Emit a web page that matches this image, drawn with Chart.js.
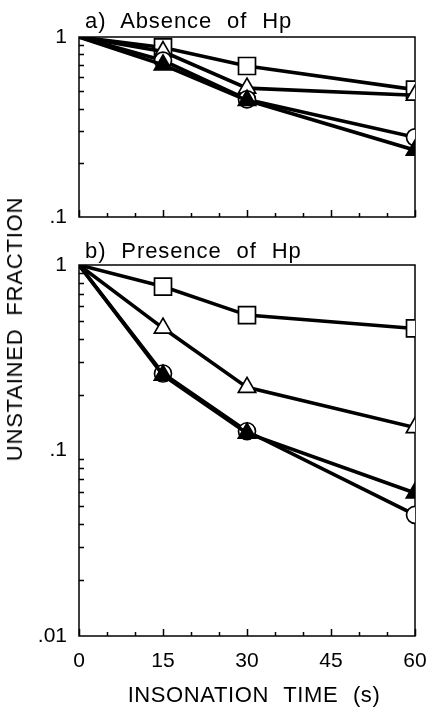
<!DOCTYPE html>
<html>
<head>
<meta charset="utf-8">
<script src="https://cdn.jsdelivr.net/npm/chart.js@4"></script>
<style>
  html, body { margin: 0; padding: 0; background: #fff; }
  #wrap { position: relative; width: 428px; height: 711px; overflow: hidden; font-family: "Liberation Sans", Arial, sans-serif; color: #000; }
  canvas { position: absolute; left: 0; }
  .lbl { position: absolute; white-space: pre; font-size: 22px; line-height: 22px; }
  .panel { letter-spacing: 0.9px; word-spacing: 8px; }
  #ytitle { left: 15px; top: 329px; transform: translate(-50%, -50%) rotate(-90deg); letter-spacing: 0.8px; word-spacing: 6px; }
  #xtitle { left: 254px; top: 695px; transform: translate(-50%, -50%); letter-spacing: 0.6px; word-spacing: 8px; }
</style>
</head>
<body>
<div id="wrap">
  <canvas id="chartA" width="428" height="250" style="top:0"></canvas>
  <canvas id="chartB" width="428" height="486" style="top:225px"></canvas>
  <div class="lbl panel" style="left:85px; top:10px">a) Absence of Hp</div>
  <div class="lbl panel" style="left:85px; top:240px">b) Presence of Hp</div>
  <div class="lbl" id="ytitle">UNSTAINED FRACTION</div>
  <div class="lbl" id="xtitle">INSONATION TIME (s)</div>
</div>
<script>
// insonation times (s)
const times = [0, 15, 30, 60];
const xTicks = [0, 15, 30, 45, 60];
const yTickValues = [0.01, 0.1, 1];
const yTickLabels = ['.01', '.1', '1'];

// a) absence of Hp
const absSquare = [1, 0.875, 0.69, 0.51];
const absOpenTri = [1, 0.83, 0.52, 0.475];
const absCircle = [1, 0.74, 0.45, 0.277];
const absFilledTri = [1, 0.70, 0.445, 0.235];

// b) presence of Hp
const presSquare = [1, 0.765, 0.537, 0.455];
const presOpenTri = [1, 0.457, 0.219, 0.133];
const presCircle = [1, 0.26, 0.127, 0.045];
const presFilledTri = [1, 0.255, 0.124, 0.059];

const font = { family: '"Liberation Sans", Arial, sans-serif', size: 21 };

// frame box plus inward tick marks
const frameTicks = {
  id: 'frameTicks',
  beforeDatasetsDraw(chart) {
    const { ctx, chartArea: a, scales: { x, y } } = chart;
    ctx.save();
    ctx.strokeStyle = '#000';
    ctx.lineWidth = 1.5;
    ctx.strokeRect(a.left, a.top, a.right - a.left, a.bottom - a.top);
    ctx.beginPath();
    for (let v = x.min; v <= x.max; v += 5) {
      const px = Math.round(x.getPixelForValue(v)) + 0.5;
      const len = v % 15 === 0 ? 7 : 4;
      ctx.moveTo(px, a.bottom);
      ctx.lineTo(px, a.bottom - len);
    }
    for (let d = y.min; d < y.max * 0.999; d *= 10) {
      for (let k = 2; k <= 9; k++) {
        const py = Math.round(y.getPixelForValue(k * d)) + 0.5;
        ctx.moveTo(a.left, py);
        ctx.lineTo(a.left + 5, py);
      }
    }
    ctx.stroke();
    ctx.restore();
  }
};

// keep tick labels from pushing the plot area around
function noPad(s) {
  s.paddingLeft = s.paddingRight = s.paddingTop = s.paddingBottom = 0;
}

function series(vals, style, filled, radius) {
  return {
    data: vals.map((v, i) => ({ x: times[i], y: v })),
    borderColor: '#000',
    borderWidth: 3.6,
    pointStyle: style,
    pointRadius: c => (c.dataIndex === 0 ? 0 : radius),
    pointBorderWidth: 1.7,
    pointBorderColor: '#000',
    pointBackgroundColor: filled ? '#000' : '#fff',
    tension: 0
  };
}

function makeChart(id, sets, yMin, showX, top, axisH) {
  return new Chart(document.getElementById(id), {
    type: 'line',
    data: {
      datasets: [
        series(sets[3], 'triangle', true, 10),
        series(sets[2], 'circle', false, 8.5),
        series(sets[1], 'triangle', false, 10),
        series(sets[0], 'rect', false, 12)
      ]
    },
    options: {
      responsive: false,
      animation: false,
      devicePixelRatio: 1,
      layout: { autoPadding: false, padding: { top: top, right: 13, left: 0, bottom: 0 } },
      plugins: { legend: { display: false }, tooltip: { enabled: false } },
      scales: {
        x: {
          type: 'linear', min: 0, max: 60,
          afterBuildTicks: s => { s.ticks = xTicks.map(v => ({ value: v })); },
          afterFit: s => { s.height = axisH; noPad(s); },
          grid: { display: false, drawTicks: false },
          border: { display: false },
          ticks: { display: showX, color: '#000', font: font, padding: 13, maxRotation: 0 }
        },
        y: {
          type: 'logarithmic', min: yMin, max: 1,
          afterBuildTicks: s => {
            s.ticks = yTickValues.filter(v => v >= yMin).map(v => ({ value: v }));
          },
          afterFit: s => { s.width = 79; noPad(s); },
          grid: { display: false, drawTicks: false },
          border: { display: false },
          ticks: {
            color: '#000', font: font, padding: 12,
            callback: v => yTickLabels[yTickValues.indexOf(v)]
          }
        }
      }
    },
    plugins: [frameTicks]
  });
}

makeChart('chartA', [absSquare, absOpenTri, absCircle, absFilledTri], 0.1, false, 37, 33);
makeChart('chartB', [presSquare, presOpenTri, presCircle, presFilledTri], 0.01, true, 40, 75);
</script>
</body>
</html>
